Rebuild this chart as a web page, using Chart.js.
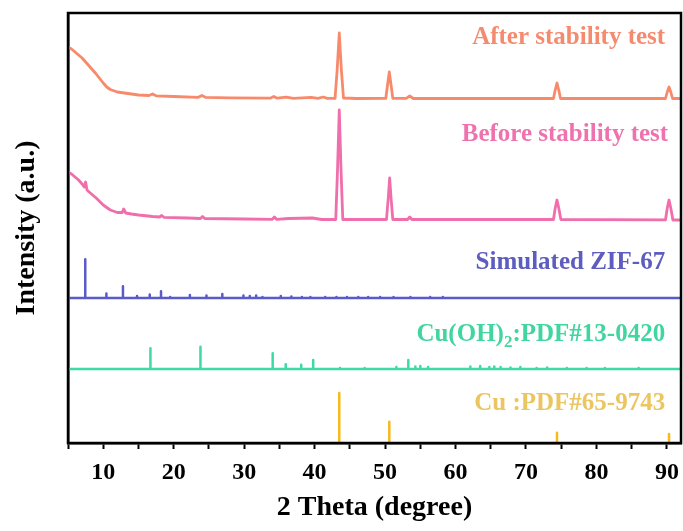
<!DOCTYPE html>
<html>
<head>
<meta charset="utf-8">
<script src="https://cdn.jsdelivr.net/npm/chart.js@4"></script>
<style>
  html, body { margin: 0; padding: 0; background: #fff; }
  canvas { display: block; }
</style>
</head>
<body>
<canvas id="xrd" width="683" height="531"></canvas>
<script>
// XRD patterns, stacked. Intensities are arbitrary units,
// each pattern sits on its own vertical offset.

const afterTheta = [5, 5.5, 6, 7, 8, 9, 10, 10.5, 11, 12, 13, 14, 15, 16.5, 17, 17.5, 20, 23.5, 24, 24.5, 28, 33.7, 34.2, 34.7, 36, 37, 39.5, 40.5, 41.2, 41.8, 42.9, 43.2, 43.5, 43.8, 44.1, 46, 50.1, 50.35, 50.6, 50.85, 51.1, 53, 53.5, 54, 60, 73.9, 74.15, 74.4, 74.65, 74.9, 89.8, 90.05, 90.3, 90.55, 90.8, 92];
const afterCounts = [56, 54, 51, 45, 37, 29, 20, 16, 13.5, 11, 10, 9, 8, 7.5, 9, 7.2, 6.5, 5.7, 7.5, 5.7, 5.2, 4.8, 6.5, 4.8, 5.8, 4.7, 5.7, 4.6, 6, 4.6, 4.6, 33, 70, 33, 5, 4.5, 4.6, 18, 31, 18, 4.6, 4.6, 7, 4.5, 4.5, 4.5, 13, 20, 13, 4.5, 4.5, 11, 16, 11, 4.5, 4.5];

const beforeTheta = [5, 5.5, 6, 6.5, 7, 7.3, 7.5, 7.7, 8, 9, 10, 11, 12, 12.7, 12.9, 13.2, 14, 15, 17, 18, 18.3, 18.6, 22, 23.8, 24.1, 24.4, 30, 34, 34.3, 34.6, 36.3, 39.7, 41, 43, 43.25, 43.5, 43.75, 44, 50.2, 50.45, 50.65, 50.85, 51.1, 53.2, 53.5, 53.8, 73.9, 74.15, 74.4, 74.65, 74.95, 89.8, 90.05, 90.3, 90.55, 90.85, 92];
const beforeCounts = [53, 51, 48, 45, 41, 38, 43, 35, 33, 27, 20, 15, 12.5, 12.5, 16, 12, 11, 10, 8.5, 8, 9.5, 7.7, 7, 6.5, 8.5, 6.5, 6, 5.7, 8, 5.7, 6.5, 7, 5.5, 5.5, 55, 115, 55, 5.5, 5.5, 27, 47, 27, 5.5, 5.5, 8, 5.5, 5.5, 17, 25, 17, 5.5, 5.2, 17, 25, 17, 5, 5];

// reference stick patterns
const zifTheta = [7.45, 10.45, 12.8, 14.8, 16.6, 18.2, 19.5, 22.3, 24.65, 26.9, 29.9, 30.8, 31.7, 32.6, 35.2, 36.7, 38.2, 39.4, 41.5, 43.1, 44.6, 46.2, 47.6, 49.3, 51.2, 53.6, 56.4, 58.2];
const zifCounts = [38.7, 4.4, 11.7, 2, 3.4, 6.7, 1, 3, 2.5, 4, 2.5, 2, 2.5, 1, 2, 1.5, 1, 1, 1, 1, 1, 1, 1, 1, 1, 1, 1, 1];

const cuohTheta = [16.7, 23.8, 34.05, 35.9, 38.1, 39.8, 43.6, 47.1, 51.6, 53.3, 54.3, 55.0, 56.1, 62.1, 63.5, 64.8, 65.5, 66.4, 67.8, 69.2, 71.5, 73.0, 75.8, 78.6, 81.2, 86.0];
const cuohCounts = [20.7, 22.3, 15.7, 4.7, 4.3, 9, 1, 1, 2, 9, 2.5, 3, 2, 2.5, 3, 2, 2.5, 2, 1.5, 2, 1, 1.5, 1, 1, 1, 1];

const cuTheta = [43.5, 50.6, 74.4, 90.3];
const cuCounts = [50, 21.3, 10.3, 9];

const offsets = { after: 340, before: 218, zif: 145, cuoh: 74, cu: 0 };

const xTicks = [10, 20, 30, 40, 50, 60, 70, 80, 90];
const labels = {
  after: "After stability test",
  before: "Before stability test",
  zif: "Simulated ZIF-67",
  cuoh: ["Cu(OH)", "2", ":PDF#13-0420"],
  cu: "Cu :PDF#65-9743",
};

const colors = {
  after: "#F88A6C", before: "#F06EAB", zif: "#5A5AC8", cuoh: "#3FD9A5", cu: "#F8BA1A",
};
const labelColors = {
  after: "#F58B6E", before: "#EE72AE", zif: "#5D5DC0", cuoh: "#41D5A0", cu: "#EBC560",
};

const SERIF = "'Times New Roman', 'Liberation Serif', serif";

function measured(theta, counts, off) {
  return theta.map((t, i) => ({ x: t, y: counts[i] + off }));
}
function sticks(theta, counts, off, withBaseline) {
  const pts = [];
  if (withBaseline) pts.push({ x: 5, y: off });
  theta.forEach((t, i) => {
    pts.push({ x: t, y: off }, { x: t, y: off + counts[i] }, { x: t, y: off });
    if (!withBaseline) pts.push({ x: t, y: null });
  });
  if (withBaseline) pts.push({ x: 92, y: off });
  return pts;
}

function lineSet(data, color, width) {
  return {
    data, borderColor: color, borderWidth: width, pointRadius: 0,
    tension: 0, fill: false, spanGaps: false, borderJoinStyle: "round",
  };
}

// labels on the right + frame around the plot
const decor = {
  id: "decor",
  afterDatasetsDraw(chart) {
    const { ctx, chartArea: a, scales } = chart;
    const xs = scales.x, ys = scales.y;
    const right = xs.getPixelForValue(89.75);
    ctx.save();
    ctx.font = "bold 25px " + SERIF;
    ctx.textAlign = "right";
    ctx.textBaseline = "middle";
    const place = [["after", 405], ["before", 308], ["zif", 180], ["cu", 39]];
    place.forEach(([k, v]) => {
      ctx.fillStyle = labelColors[k];
      ctx.fillText(labels[k], k === "before" ? right + 3 : right, ys.getPixelForValue(v));
    });
    // Cu(OH)2 label with subscript
    const [a1, sub, a2] = labels.cuoh;
    const y = ys.getPixelForValue(108);
    ctx.fillStyle = labelColors.cuoh;
    ctx.textAlign = "left";
    const w2 = ctx.measureText(a2).width;
    const w1 = ctx.measureText(a1).width;
    ctx.font = "bold 17px " + SERIF;
    const ws = ctx.measureText(sub).width;
    let x0 = right - w2 - ws - w1;
    ctx.font = "bold 25px " + SERIF;
    ctx.fillText(a1, x0, y);
    ctx.font = "bold 17px " + SERIF;
    ctx.fillText(sub, x0 + w1, y + 8);
    ctx.font = "bold 25px " + SERIF;
    ctx.fillText(a2, x0 + w1 + ws, y);

    ctx.strokeStyle = "#000";
    ctx.lineWidth = 2.5;
    ctx.strokeRect(a.left, a.top, a.right - a.left, a.bottom - a.top);
    ctx.restore();
  },
};

new Chart(document.getElementById("xrd"), {
  type: "line",
  data: {
    datasets: [
      lineSet(sticks(cuTheta, cuCounts, offsets.cu, false), colors.cu, 2.5),
      lineSet(sticks(cuohTheta, cuohCounts, offsets.cuoh, true), colors.cuoh, 2.5),
      lineSet(sticks(zifTheta, zifCounts, offsets.zif, true), colors.zif, 2.5),
      lineSet(measured(beforeTheta, beforeCounts, offsets.before), colors.before, 2.8),
      lineSet(measured(afterTheta, afterCounts, offsets.after), colors.after, 2.8),
    ],
  },
  options: {
    responsive: false,
    animation: false,
    layout: { padding: { top: 13, right: 2, left: 0, bottom: 0 } },
    plugins: { legend: { display: false }, tooltip: { enabled: false } },
    scales: {
      x: {
        type: "linear",
        min: 5,
        max: 92,
        afterFit: (s) => { s.height = 88; s.paddingRight = 0; s.paddingLeft = 0; },
        ticks: {
          stepSize: 5,
          includeBounds: false,
          autoSkip: false,
          maxRotation: 0,
          padding: 9,
          color: "#000",
          font: { family: SERIF, size: 24, weight: "bold" },
          callback: (v) => (xTicks.includes(v) ? String(v) : ""),
        },
        grid: {
          drawOnChartArea: false,
          drawTicks: true,
          tickLength: 6,
          tickWidth: 2,
          tickColor: "#000",
        },
        border: { display: true, color: "#000", width: 2.5 },
        title: {
          display: true,
          text: "2 Theta (degree)",
          color: "#000",
          font: { family: SERIF, size: 28, weight: "bold" },
          padding: { top: 0, bottom: 6 },
        },
      },
      y: {
        min: 0,
        max: 430,
        afterFit: (s) => { s.width = 68; },
        ticks: { display: false },
        grid: { display: false, drawTicks: false },
        border: { display: true, color: "#000", width: 2.5 },
        title: {
          display: true,
          text: "Intensity (a.u.)",
          color: "#000",
          font: { family: SERIF, size: 28, weight: "bold" },
          padding: { top: 10, bottom: 0 },
        },
      },
    },
  },
  plugins: [decor],
});
</script>
</body>
</html>
